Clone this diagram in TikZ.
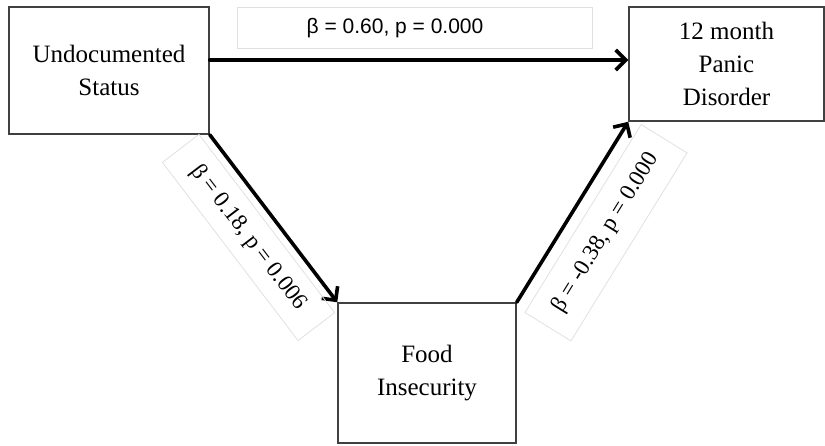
\documentclass[tikz,border=0pt]{standalone}
\usepackage{fontspec}
\setmainfont{Liberation Serif}
\newfontfamily\labelsans{Liberation Sans}
\usetikzlibrary{arrows.meta}

\begin{document}
\begin{tikzpicture}[x=1pt,y=-1pt,line cap=round,
  var/.style={draw=black!75,line width=1.5pt,align=center,inner sep=0pt,
    font=\fontsize{25}{33}\selectfont},
  coef/.style={draw=black!12,line width=0.8pt,inner sep=0pt,
    font=\fontsize{23}{27}\selectfont},
  effect/.style={line width=3.6pt,-{Straight Barb[length=10pt,width=20pt,line width=3.6pt]}}]
\useasboundingbox (0,0) rectangle (825,445);
% variables
\node[var,minimum width=200,minimum height=127] (undoc) at (109,70.5) {Undocumented\\Status};
\node[var,minimum width=195,minimum height=114] (panic) at (726.5,64) {12 month\\Panic\\Disorder};
\node[var,minimum width=178,minimum height=140] (food) at (427,373) {Food\\Insecurity};
% direct effect
\node[coef,minimum width=355,minimum height=41] (direct) at (414.5,27.5) {};
\node[font=\labelsans\fontsize{21}{25}\selectfont] (directlbl) at (395,28) {β = 0.60, p = 0.000};
\draw[effect] ([yshift=10.5pt]undoc.east) -- ([yshift=10.5pt]undoc.east -| panic.west);
% indirect effect
\draw[effect] (undoc.south east) -- node[coef,sloped,below=8pt,minimum width=224,minimum height=46] (pathA) {β = 0.18, p = 0.006} (food.north west);
\draw[effect] (food.north east) -- node[coef,sloped,below=12pt,minimum width=221,minimum height=54] (pathB) {β = -0.38, p = 0.000} (panic.south west);
\end{tikzpicture}
\end{document}
